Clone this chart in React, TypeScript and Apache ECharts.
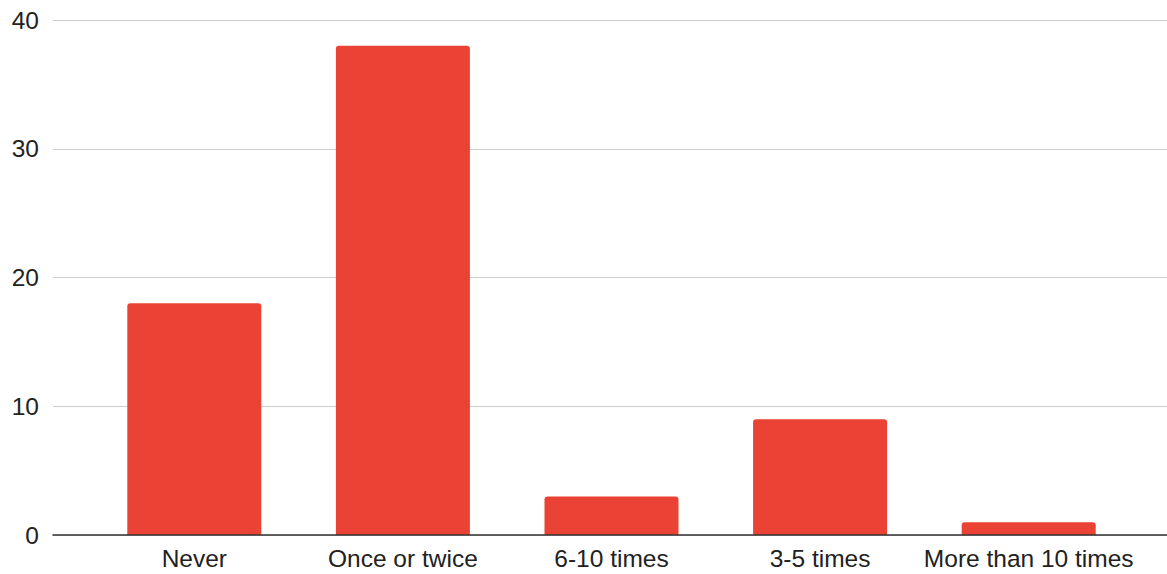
import React, { useEffect, useRef } from "react";
import * as echarts from "echarts";

const categories = ["Never", "Once or twice", "6-10 times", "3-5 times", "More than 10 times"];
const values = [18, 38, 3, 9, 1];
const yTicks = [0, 10, 20, 30, 40];

const FONT = "'Liberation Sans', Arial, sans-serif";

export default function App() {
  const ref = useRef<HTMLDivElement>(null);
  useEffect(() => {
    const chart = echarts.init(ref.current!, null, { renderer: "svg" });
    const yMin = yTicks[0];
    const yMax = yTicks[yTicks.length - 1];
    const step = yTicks[1] - yTicks[0];
    chart.setOption({
      animation: false,
      grid: [
        { left: 53, right: 0, top: 20, bottom: 39 },
        { left: 90, right: 34, top: 20, bottom: 39 },
      ],
      xAxis: [
        {
          gridIndex: 0,
          type: "category",
          data: categories,
          axisLine: { show: true, lineStyle: { color: "#333", width: 1.5 } },
          axisTick: { show: false },
          axisLabel: { show: false },
          z: 10,
        },
        {
          gridIndex: 1,
          type: "category",
          data: categories,
          axisLine: { show: false },
          axisTick: { show: false },
          axisLabel: {
            color: "#222",
            fontSize: 24.5,
            fontFamily: FONT,
            margin: 11,
            interval: 0,
          },
        },
      ],
      yAxis: [
        {
          gridIndex: 0,
          type: "value",
          min: yMin,
          max: yMax,
          interval: step,
          axisLine: { show: false },
          axisTick: { show: false },
          axisLabel: {
            color: "#222",
            fontSize: 24.5,
            fontFamily: FONT,
            margin: 14,
          },
          splitLine: { lineStyle: { color: "#cccccc", width: 1.2 } },
        },
        {
          gridIndex: 1,
          type: "value",
          min: yMin,
          max: yMax,
          interval: step,
          show: false,
          splitLine: { show: false },
        },
      ],
      series: [
        {
          type: "bar",
          xAxisIndex: 1,
          yAxisIndex: 1,
          data: values,
          barWidth: 134,
          itemStyle: { color: "#EA4335", borderRadius: [3, 3, 0, 0] },
        },
      ],
    });
    return () => chart.dispose();
  }, []);
  return (
    <div
      ref={ref}
      style={{ position: "absolute", left: 0, top: 0, width: 1167, height: 574 }}
    />
  );
}
